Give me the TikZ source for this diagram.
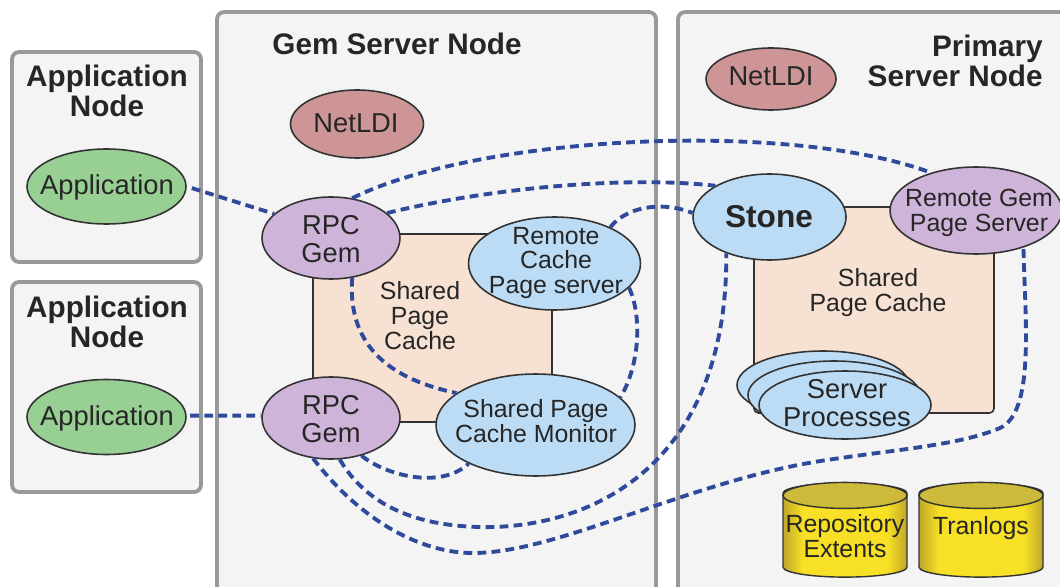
\documentclass[tikz,border=0pt]{standalone}
\usepackage{fontspec}
\setmainfont{Liberation Sans}
\usetikzlibrary{calc,shapes.geometric}
\definecolor{panelfill}{HTML}{F4F4F4}
\definecolor{paneledge}{HTML}{999999}
\definecolor{inkgray}{HTML}{333333}
\definecolor{appgreen}{HTML}{98D094}
\definecolor{rpcpurple}{HTML}{CFB4DA}
\definecolor{procblue}{HTML}{BCDCF5}
\definecolor{cachepeach}{HTML}{F7E1D3}
\definecolor{ldirose}{HTML}{CD9595}
\definecolor{linkblue}{HTML}{2F4A9A}
\definecolor{diskcap}{HTML}{CDB93A}
\definecolor{diskbody}{HTML}{F7E025}
\definecolor{diskedge}{HTML}{BFA82A}
\pgfdeclarehorizontalshading{diskshade}{100bp}{color(0bp)=(diskedge); color(25bp)=(diskedge); color(33bp)=(diskbody); color(67bp)=(diskbody); color(75bp)=(diskedge); color(100bp)=(diskedge)}
\tikzset{
  panel/.style={draw=paneledge,fill=panelfill,line width=2.2pt,rounded corners=4pt,inner sep=0pt},
  title/.style={font=\fontsize{16.9}{17}\selectfont\bfseries,text=black!85,align=center,inner sep=0pt},
  cache/.style={draw=inkgray,fill=cachepeach,line width=0.9pt,inner sep=0pt},
  oval/.style={ellipse,draw=inkgray,line width=0.9pt,inner sep=0pt},
  bigtext/.style={inner sep=0pt,text=black!85,align=center,font=\fontsize{15.55}{15.7}\selectfont},
  plain/.style={inner sep=0pt,text=black!85,align=center,font=\fontsize{14.15}{14.2}\selectfont},
  disk/.style={cylinder,shape border rotate=90,shape aspect=0.21,draw=inkgray,line width=0.8pt,inner sep=0pt,shade,shading=diskshade,minimum width=2.48cm,minimum height=1.88cm,font=\fontsize{14.15}{14.2}\selectfont},
  diskcover/.style={draw=inkgray,line width=0.8pt,fill=diskcap},
  link/.style={draw=linkblue,line width=2.2pt,dash pattern=on 5pt off 3pt}
}
\begin{document}
\begin{tikzpicture}[x=0.02cm,y=-0.02cm]
    \useasboundingbox (0,0) rectangle (1060,587);
    \clip (0,0) rectangle (1060,587);
    % outer boxes
    \node[panel,minimum width=3.78cm,minimum height=4.2cm] (appa) at (106.5,157) {};
    \node[panel,minimum width=3.78cm,minimum height=4.2cm] (appb) at (106.5,387) {};
    \node[panel,minimum width=8.78cm,minimum height=12.4cm] (gemnode) at (436.5,322) {};
    \node[panel,minimum width=9cm,minimum height=12.4cm] (primary) at (903,322) {};
    \node[title] (appatitle) at (107,91) {Application\\Node};
    \node[title] (appbtitle) at (107,322) {Application\\Node};
    \node[title] (gemtitle) at (397,44) {Gem Server Node};
    \node[title,anchor=east,align=right] (primarytitle) at (1043,61) {Primary\\Server Node};
    % caches
    \node[cache,minimum width=4.78cm,minimum height=3.76cm] (gemcache) at (432.5,328) {};
    \node[cache,minimum width=4.8cm,minimum height=4.12cm,rounded corners=2.5pt] (primcache) at (874,310) {};
    \node[plain] (gemcachetext) at (420,316) {Shared\\Page\\Cache};
    \node[plain] (primcachetext) at (878,292.5) {Shared\\Page Cache};
    % ellipses
    \node[oval,fill=appgreen,minimum width=3.18cm,minimum height=1.5cm] (appl) at (106.5,186.5) {};
    \node[bigtext] (appltext) at (107,187.5) {Application};
    \node[oval,fill=appgreen,minimum width=3.18cm,minimum height=1.5cm] (applb) at (106.5,417) {};
    \node[bigtext] (applbtext) at (107,418.5) {Application};
    \node[oval,fill=ldirose,minimum width=2.66cm,minimum height=1.36cm] (ldigem) at (357,124) {};
    \node[bigtext] (ldigemtext) at (356,123) {NetLDI};
    \node[oval,fill=ldirose,minimum width=2.6cm,minimum height=1.24cm] (ldiprim) at (771,79) {};
    \node[bigtext] (ldiprimtext) at (771,76) {NetLDI};
    \node[oval,fill=rpcpurple,minimum width=2.76cm,minimum height=1.64cm] (rpca) at (331,238) {};
    \node[bigtext] (rpcatext) at (331,239) {RPC\\Gem};
    \node[oval,fill=rpcpurple,minimum width=2.76cm,minimum height=1.64cm] (rpcb) at (331,418) {};
    \node[bigtext] (rpcbtext) at (331,419) {RPC\\Gem};
    \node[oval,fill=procblue,minimum width=3.44cm,minimum height=1.86cm] (remcache) at (554.5,263.5) {};
    \node[plain] (remcachetext) at (556,263) {Remote\\Cache\\Page server};
    \node[oval,fill=procblue,minimum width=3.98cm,minimum height=2.04cm] (monitor) at (535.5,425) {};
    \node[plain] (monitortext) at (536,421) {Shared Page\\Cache Monitor};
    \node[oval,fill=procblue,minimum width=3.06cm,minimum height=1.72cm] (stone) at (769.5,217) {};
    \node[bigtext,font=\fontsize{18}{18}\selectfont\bfseries] (stonetext) at (769,217) {Stone};
    \node[oval,fill=rpcpurple,minimum width=3.44cm,minimum height=1.74cm] (remgem) at (976,210.5) {};
    \node[plain] (remgemtext) at (979,213) {Remote Gem\\Page Server};
    \foreach \n/\px/\py in {c/823/385,b/834/395,a/845/405}{
        \node[oval,fill=procblue,minimum width=3.44cm,minimum height=1.36cm] (proc\n) at (\px,\py) {};
    }
    \node[bigtext] (proctext) at (847,403) {Server\\Processes};
    % disks
    \node[disk] (repo) at (845,535.5) {\phantom{Tranlogs}};
    \node[disk] (tran) at (981,535.5) {\phantom{Tranlogs}};
    \draw[diskcover] ($(repo.north)+(0,13)$) ellipse [x radius=1.24cm,y radius=0.26cm];
    \draw[diskcover] ($(tran.north)+(0,13)$) ellipse [x radius=1.24cm,y radius=0.26cm];
    \node[plain] (repotext) at (845,536) {Repository\\Extents};
    \node[plain] (trantext) at (981,528) {Tranlogs};
    % links
    \draw[link,shorten <=3pt] (appl.east) -- (rpca.157);
    \draw[link,shorten <=2pt] (applb.1) -- (rpcb.178);
    \draw[link] (rpca.62) .. controls (480,135) and (790,120) .. (remgem.140);
    \draw[link] (rpca.24) .. controls (480,190) and (620,175) .. (stone.150);
    \draw[link] (remcache.33) .. controls (625,208) and (660,200) .. (stone.177);
    \draw[link] (rpca.-62) .. controls (347,350) and (395,380) .. (monitor.158);
    \draw[link] (remcache.-18) .. controls (642,315) and (640,365) .. (monitor.18);
    \draw[link] (rpcb.-51) .. controls (385,475) and (440,490) .. (monitor.210);
    \draw[link] (rpcb.-78) .. controls (375,520) and (445,528) .. (495,527) .. controls (620,522) and (728,440) .. (stone.220);
    \draw[link] (rpcb.246) .. controls (360,520) and (420,553) .. (473,553) .. controls (560,553) and (690,480) .. (827,460) .. controls (900,449) and (960,445) .. (1000,428) .. controls (1035,412) and (1025,320) .. (remgem.-38);
\end{tikzpicture}
\end{document}
